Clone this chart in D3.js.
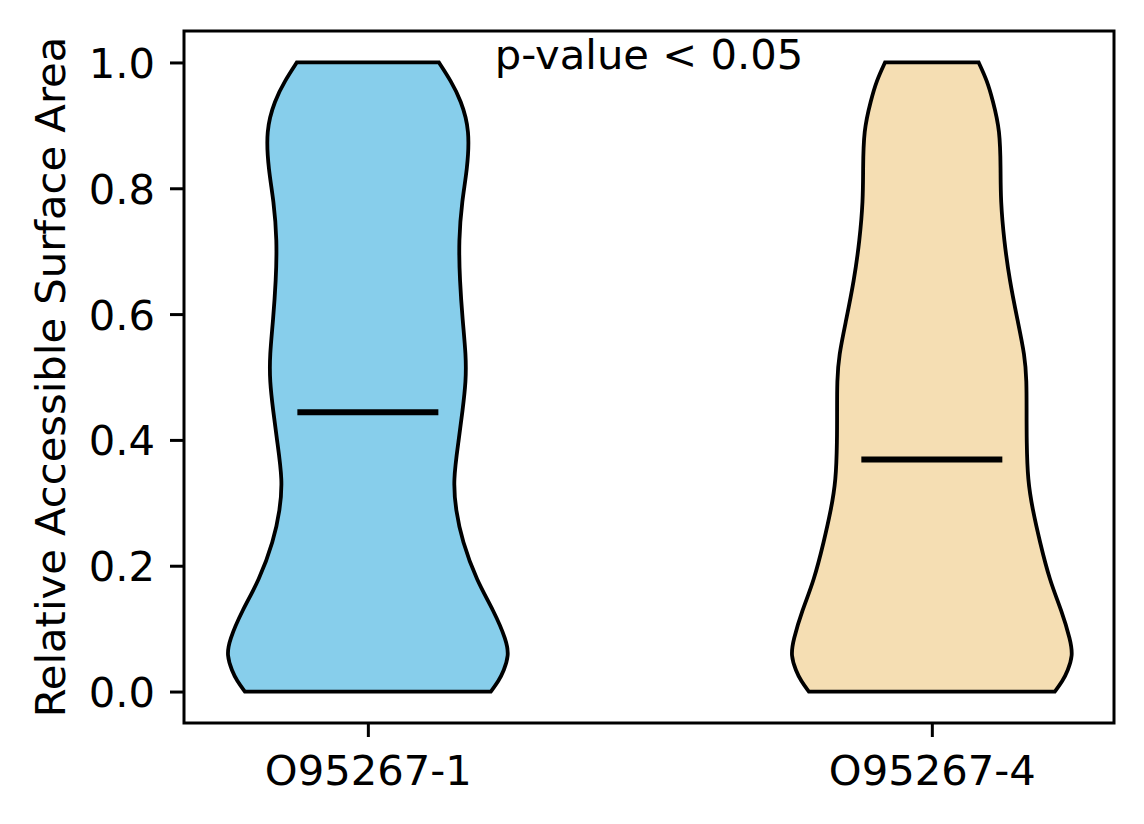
<!DOCTYPE html>
<html>
<head>
<meta charset="utf-8">
<script src="https://cdn.jsdelivr.net/npm/d3@7"></script>
<style>
  body { margin: 0; background: #fff; }
  text { font-family: "DejaVu Sans", sans-serif; }
</style>
</head>
<body>
<svg id="chart" width="1144" height="824"></svg>
<script>
////////////////////////////////////////////
// DATA
////////////////////////////////////////////

const isoforms = ["O95267-1", "O95267-4"];
const colours = ["#87CEEB", "#F5DEB3"];

// RSA levels where the violin outline was sampled
const rsaGrid = [0, 0.017, 0.033, 0.057, 0.081, 0.129, 0.176, 0.240, 0.288, 0.335,
  0.399, 0.447, 0.494, 0.534, 0.590, 0.653, 0.717, 0.781, 0.828, 0.892, 0.940, 0.971, 1.0];

// half widths of each violin at those levels (x data units)
const halfWidth1 = [0.218, 0.232, 0.241, 0.250, 0.246, 0.223, 0.193, 0.167, 0.156, 0.151,
  0.161, 0.168, 0.174, 0.174, 0.168, 0.163, 0.161, 0.167, 0.176, 0.181, 0.165, 0.147, 0.126];
const halfWidth2 = [0.218, 0.232, 0.241, 0.250, 0.246, 0.230, 0.209, 0.191, 0.179, 0.170,
  0.168, 0.168, 0.168, 0.165, 0.152, 0.138, 0.128, 0.122, 0.122, 0.121, 0.108, 0.098, 0.083];

const means = [0.444, 0.369];
const yTicks = [0.0, 0.2, 0.4, 0.6, 0.8, 1.0];

////////////////////////////////////////////
// CHART
////////////////////////////////////////////

const svg = d3.select("#chart");
const m = {left: 184, top: 31, right: 1114, bottom: 723};
const fs = "41.7px";

const x = d3.scaleLinear().domain([0.674, 2.323]).range([m.left, m.right]);
const y = d3.scaleLinear().domain([-0.05, 1.05]).range([m.bottom, m.top]);

const profiles = [halfWidth1, halfWidth2];

profiles.forEach((hw, i) => {
  let pos = i + 1;
  let pts = rsaGrid.map((v, k) => ({v: v, w: hw[k]}));
  let area = d3.area()
    .y(d => y(d.v))
    .x0(d => x(pos - d.w))
    .x1(d => x(pos + d.w))
    .curve(d3.curveBasis);

  svg.append("path")
    .attr("d", area(pts))
    .attr("fill", colours[i])
    .attr("stroke", "black")
    .attr("stroke-width", 3.8)
    .attr("stroke-linejoin", "miter");

  // mean line
  svg.append("line")
    .attr("x1", x(pos - 0.125))
    .attr("x2", x(pos + 0.125))
    .attr("y1", y(means[i]))
    .attr("y2", y(means[i]))
    .attr("stroke", "black")
    .attr("stroke-width", 6);
});

// axes
let yAxis = d3.axisLeft(y).tickValues(yTicks).tickFormat(d3.format(".1f"))
  .tickSize(14).tickPadding(15);
let xAxis = d3.axisBottom(x).tickValues([1, 2]).tickFormat(d => isoforms[d - 1])
  .tickSize(14).tickPadding(15);

let gy = svg.append("g").attr("transform", `translate(${m.left},0)`).call(yAxis);
let gx = svg.append("g").attr("transform", `translate(0,${m.bottom})`).call(xAxis);

[gy, gx].forEach(g => {
  g.select(".domain").remove();
  g.selectAll(".tick line").attr("stroke", "black").attr("stroke-width", 3);
  g.selectAll(".tick text")
    .attr("fill", "black")
    .style("font-size", fs)
    .style("font-family", "DejaVu Sans");
});
gy.selectAll(".tick text").attr("dy", "0.36em");
gx.selectAll(".tick text").attr("dy", "33px");

// frame
svg.append("rect")
  .attr("x", m.left).attr("y", m.top)
  .attr("width", m.right - m.left).attr("height", m.bottom - m.top)
  .attr("fill", "none").attr("stroke", "black").attr("stroke-width", 3);

// labels
svg.append("text")
  .attr("transform", `translate(65,${(m.top + m.bottom) / 2}) rotate(-90)`)
  .attr("text-anchor", "middle")
  .style("font-size", fs)
  .text("Relative Accessible Surface Area");

svg.append("text")
  .attr("x", (m.left + m.right) / 2)
  .attr("y", 69)
  .attr("text-anchor", "middle")
  .style("font-size", fs)
  .text("p-value < 0.05");
</script>
</body>
</html>
